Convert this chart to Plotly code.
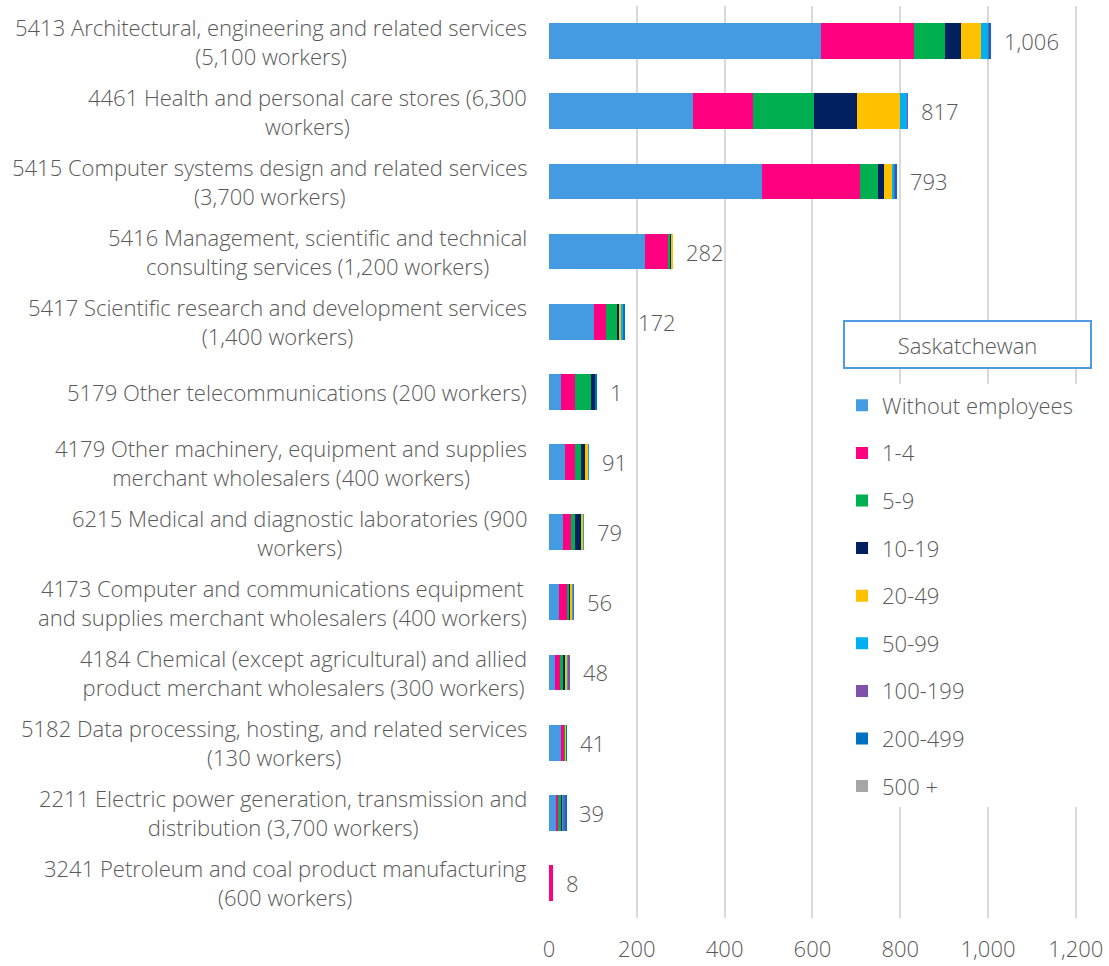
import plotly.graph_objects as go

categories = [
    "5413 Architectural, engineering and related services<br>(5,100 workers)",
    "4461 Health and personal care stores (6,300<br>workers)",
    "5415 Computer systems design and related services<br>(3,700 workers)",
    "5416 Management, scientific and technical<br>consulting services (1,200 workers)",
    "5417 Scientific research and development services<br>(1,400 workers)",
    "5179 Other telecommunications (200 workers)",
    "4179 Other machinery, equipment and supplies<br>merchant wholesalers (400 workers)",
    "6215 Medical and diagnostic laboratories (900<br>workers)",
    "4173 Computer and communications equipment<br>and supplies merchant wholesalers (400 workers)",
    "4184 Chemical (except agricultural) and allied<br>product merchant wholesalers (300 workers)",
    "5182 Data processing, hosting, and related services<br>(130 workers)",
    "2211 Electric power generation, transmission and<br>distribution (3,700 workers)",
    "3241 Petroleum and coal product manufacturing<br>(600 workers)",
]

series_names = ["Without employees", "1-4", "5-9", "10-19", "20-49",
                "50-99", "100-199", "200-499", "500 +"]

without_employees = [620, 329, 485, 219, 103, 27, 37, 32, 23, 13, 28, 17, 1]
s_1_4             = [212, 136, 223, 52, 26, 32, 23, 17, 17, 12, 7, 4, 7]
s_5_9             = [69, 138, 41, 6, 25, 36, 14, 10, 6, 6, 3, 7, 0]
s_10_19           = [38, 99, 14, 1, 6, 12, 8, 15, 3, 5, 0, 2, 0]
s_20_49           = [45, 98, 19, 4, 6, 0, 7, 4, 4, 5, 1, 0, 0]
s_50_99           = [15, 16, 5, 0, 3, 0, 2, 1, 2, 4, 0, 1, 0]
s_100_199         = [5, 1, 2, 0, 1, 0, 0, 0, 1, 3, 1, 6, 0]
s_200_499         = [2, 0, 4, 0, 2, 2, 0, 0, 0, 0, 1, 2, 0]
s_500_plus        = [0, 0, 0, 0, 0, 0, 0, 0, 0, 0, 0, 0, 0]

total_labels = ["1,006", "817", "793", "282", "172", "1", "91", "79",
                "56", "48", "41", "39", "8"]

x_ticks = [0, 200, 400, 600, 800, 1000, 1200]

colors = ["#449be2", "#ff0080", "#00b050", "#002060", "#ffc000",
          "#00b0f0", "#8052ab", "#0070c0", "#a6a6a6"]

all_series = [without_employees, s_1_4, s_5_9, s_10_19, s_20_49,
              s_50_99, s_100_199, s_200_499, s_500_plus]

FONT = "Open Sans"
TXT = "#595959"
FS = 22

def f(size=FS):
    return dict(family=FONT, size=size, color=TXT, weight=300)

fig = go.Figure()
for name, vals, col in zip(series_names, all_series, colors):
    fig.add_trace(go.Bar(
        y=categories, x=vals, name=name, orientation="h",
        marker=dict(color=col, line=dict(width=0)),
        legendgroup=name,
    ))

totals = [sum(v) for v in zip(*all_series)]

annotations = []
for cat, tot, lab in zip(categories, totals, total_labels):
    annotations.append(dict(
        x=tot, y=cat, xref="x", yref="y", text=lab, showarrow=False,
        xanchor="left", xshift=11, font=f()))
    annotations.append(dict(
        x=0, y=cat, xref="paper", yref="y", text=cat, showarrow=False,
        xanchor="right", xshift=-20, align="center", font=f()))

annotations.append(dict(
    x=0.7595, y=0.629, xref="paper", yref="paper", text="Saskatchewan",
    showarrow=False, xanchor="center", yanchor="middle",
    width=243, height=43, bgcolor="white", bordercolor="#4d9be3",
    borderwidth=2, borderpad=1, font=f()))

fig.update_layout(
    barmode="stack",
    bargap=0.49,
    width=1109, height=966,
    margin=dict(l=549, r=9, t=6, b=48),
    paper_bgcolor="white", plot_bgcolor="white",
    font=f(),
    showlegend=True,
    legend=dict(
        x=0.5318, y=0.585, xanchor="left", yanchor="top",
        traceorder="grouped", tracegroupgap=16,
        bgcolor="white", borderwidth=0, font=f(),
    ),
    annotations=annotations,
    xaxis=dict(
        range=[0, 1255], tickvals=x_ticks, tickformat=",",
        showgrid=True, gridcolor="#d9d9d9", gridwidth=2,
        zeroline=False, showline=False, ticks="", automargin=False,
        ticklabelstandoff=16, tickfont=f(),
    ),
    yaxis=dict(
        autorange="reversed", showticklabels=False, ticks="",
        showline=False, showgrid=False, zeroline=False, automargin=False,
    ),
)

fig.write_html("out.html", config={"displayModeBar": False},
               post_script="document.body.style.margin='0';")
